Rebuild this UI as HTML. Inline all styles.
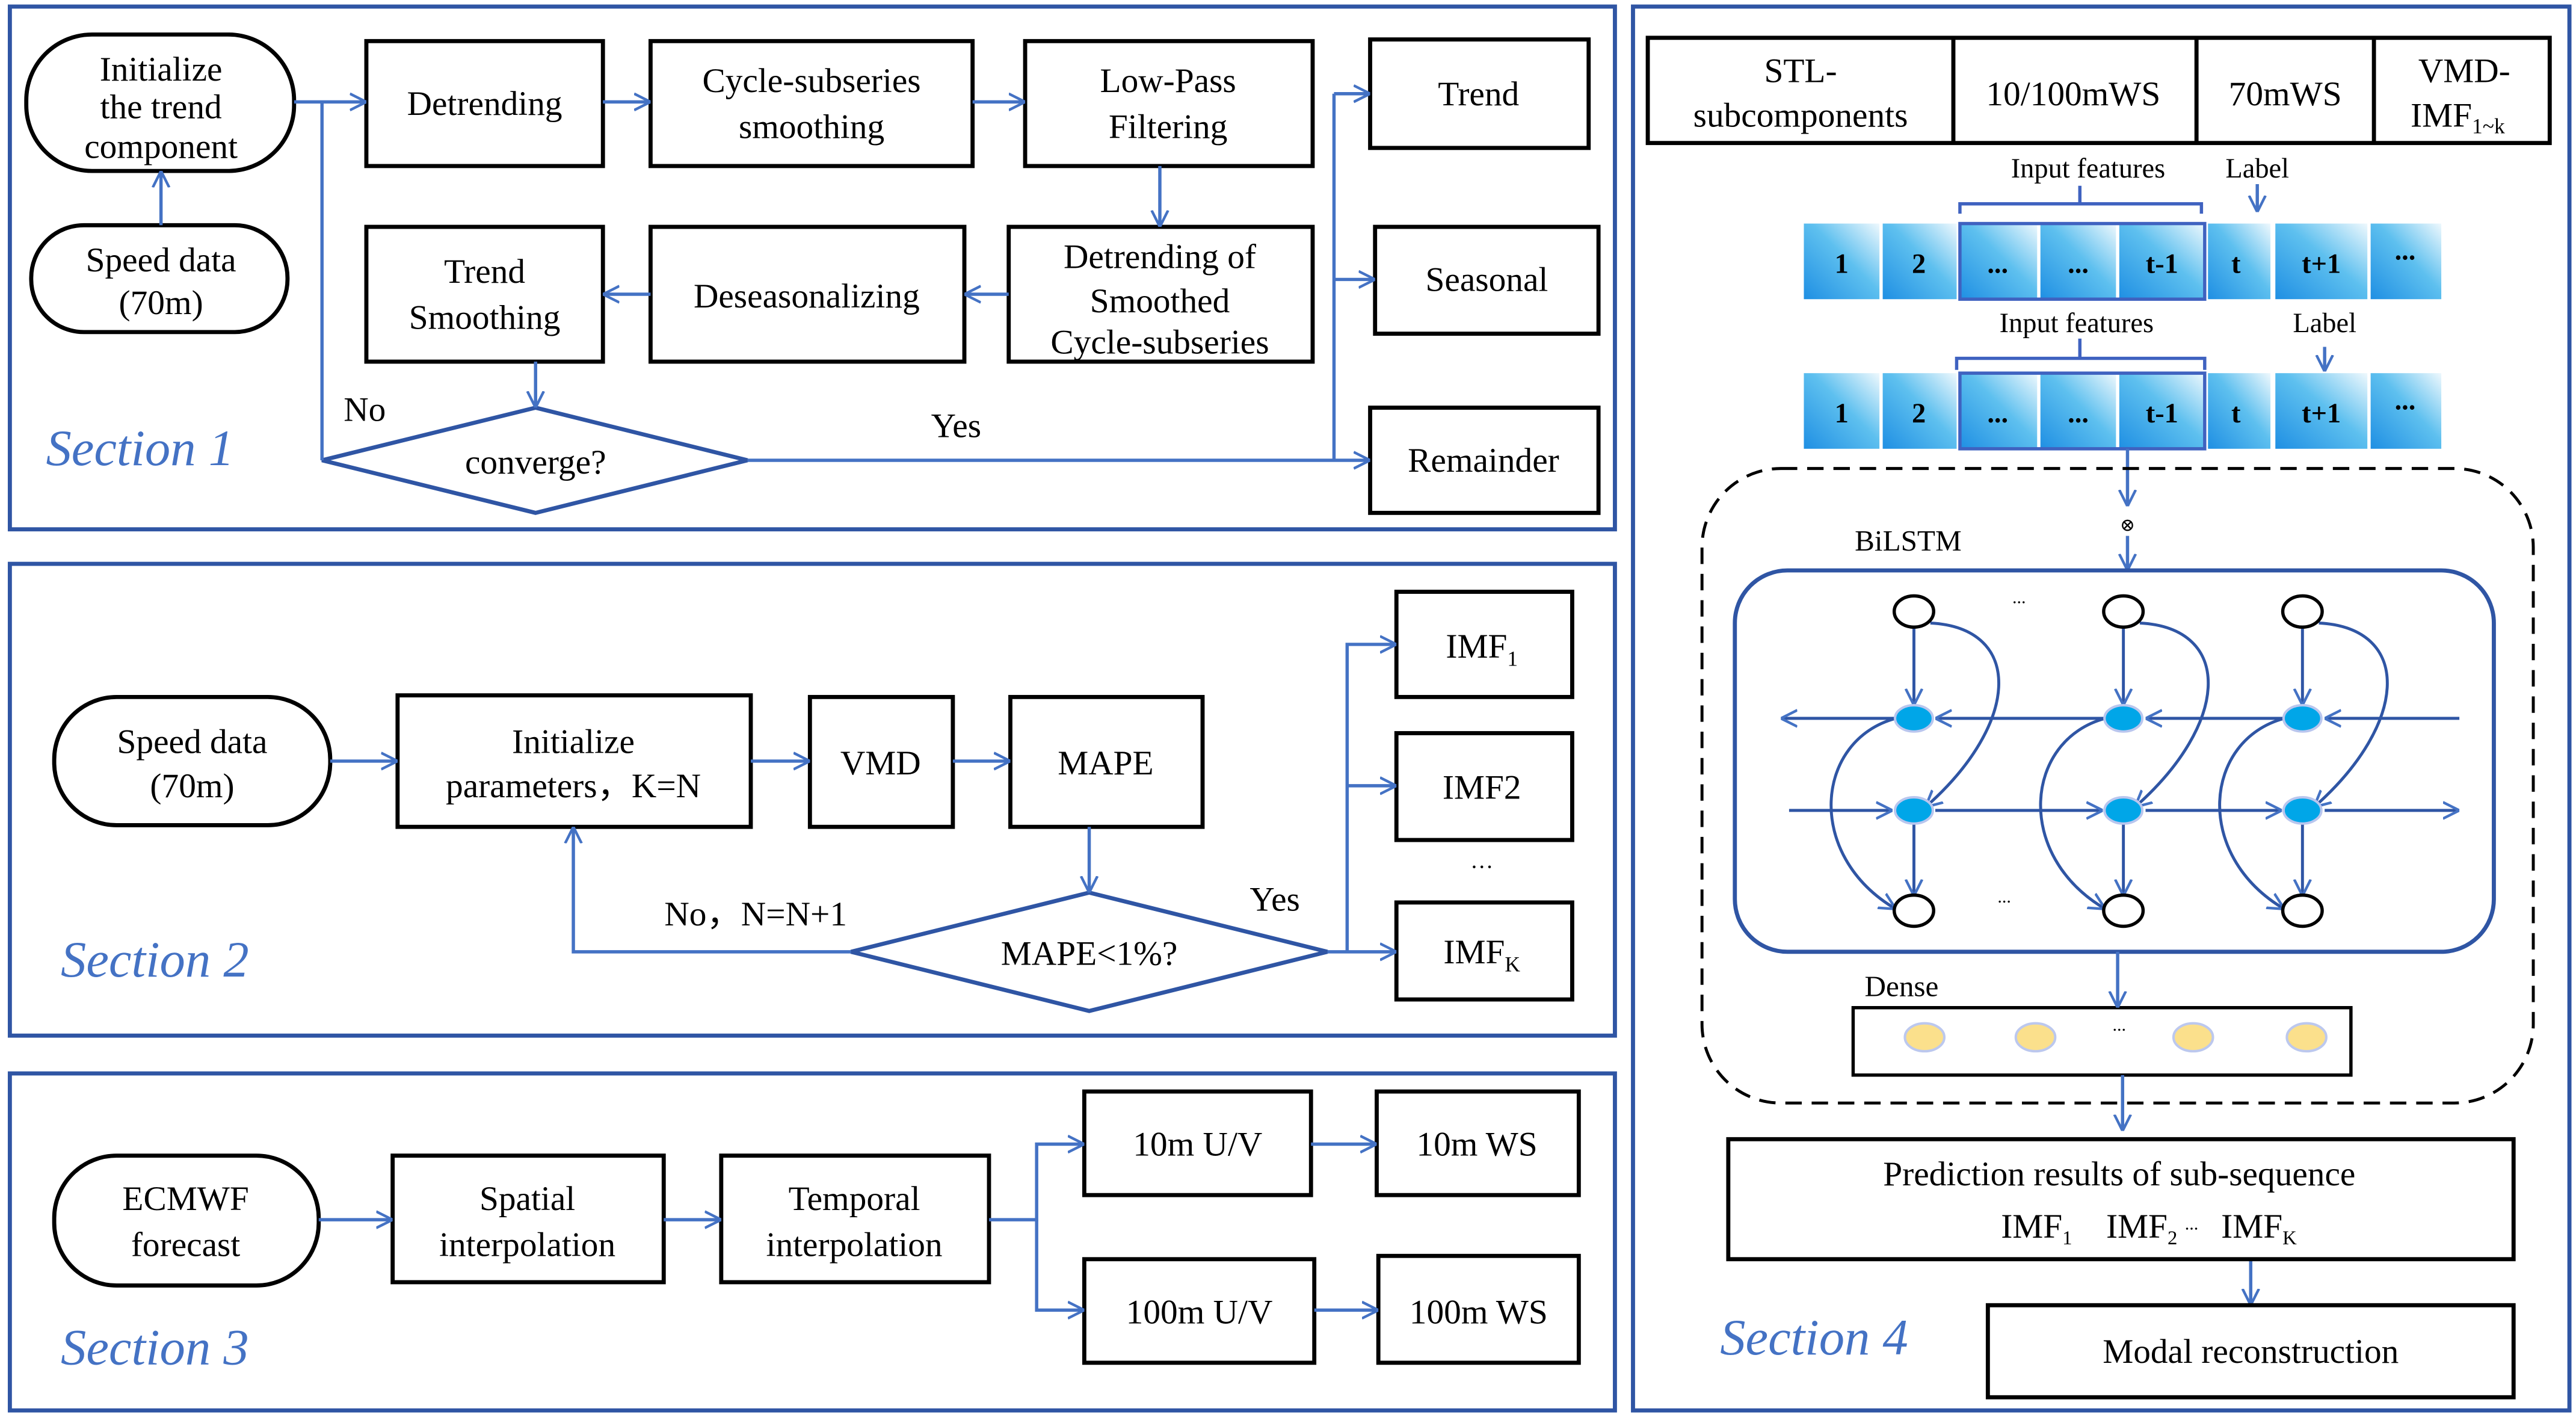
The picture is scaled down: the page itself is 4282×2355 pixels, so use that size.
<!DOCTYPE html>
<html><head><meta charset="utf-8"><style>
html,body{margin:0;padding:0;background:#fff;}
svg{display:block;}
svg text{font-family:"Liberation Serif","DejaVu Serif",serif;fill:#000;}
</style></head><body>
<svg width="4282" height="2355" viewBox="0 0 1568 862" preserveAspectRatio="none" xmlns="http://www.w3.org/2000/svg" font-family="Liberation Serif, DejaVu Serif, serif">
<defs>
<marker id="a" viewBox="0 0 10 10" refX="10" refY="5" markerWidth="10" markerHeight="14" markerUnits="userSpaceOnUse" orient="auto">
<path d="M0,0 L10,5 L0,10" fill="none" stroke="#4472c4" stroke-width="1.6"/>
</marker>
<linearGradient id="g" x1="0" y1="1" x2="1" y2="0">
<stop offset="0" stop-color="#1f8fe3"/><stop offset="0.55" stop-color="#5ec0ef"/><stop offset="1" stop-color="#eef8fd"/>
</linearGradient>
</defs>
<g fill="none" stroke="#2f55a4" stroke-width="2.5">
<rect x="6" y="4" width="977" height="318"/>
<rect x="6" y="343" width="977" height="287"/>
<rect x="6" y="653" width="977" height="205"/>
<rect x="994" y="4" width="570" height="854"/>
</g>
<g font-style="italic" font-size="31">
<text x="28" y="283" style="fill:#4472c4">Section 1</text>
<text x="37" y="594" style="fill:#4472c4">Section 2</text>
<text x="37" y="830" style="fill:#4472c4">Section 3</text>
<text x="1047" y="824" style="fill:#4472c4">Section 4</text>
</g>
<!-- Section 1 -->
<g fill="#fff" stroke="#000" stroke-width="2.5">
<rect x="16" y="21" width="163" height="83" rx="40"/>
<rect x="19" y="137" width="156" height="65" rx="32"/>
<rect x="223" y="25" width="144" height="76"/>
<rect x="396" y="25" width="196" height="76"/>
<rect x="624" y="25" width="175" height="76"/>
<rect x="834" y="24" width="133" height="66"/>
<rect x="223" y="138" width="144" height="82"/>
<rect x="396" y="138" width="191" height="82"/>
<rect x="614" y="138" width="185" height="82"/>
<rect x="837" y="138" width="136" height="65"/>
<rect x="834" y="248" width="139" height="64"/>
</g>
<polygon points="196,280 326,248 455,280 326,312" fill="none" stroke="#2f55a4" stroke-width="2.5"/>
<g fill="none" stroke="#4472c4" stroke-width="2" marker-end="url(#a)">
<line x1="98" y1="137" x2="98" y2="104"/>
<line x1="179" y1="62" x2="223" y2="62"/>
<line x1="367" y1="62" x2="396" y2="62"/>
<line x1="592" y1="62" x2="624" y2="62"/>
<line x1="706" y1="101" x2="706" y2="138"/>
<line x1="614" y1="179" x2="587" y2="179"/>
<line x1="396" y1="179" x2="367" y2="179"/>
<line x1="326" y1="220" x2="326" y2="248"/>
<line x1="812" y1="57" x2="834" y2="57"/>
<line x1="812" y1="170" x2="837" y2="170"/>
<line x1="455" y1="280" x2="834" y2="280"/>
</g>
<g fill="none" stroke="#4472c4" stroke-width="2">
<polyline points="196,280 196,62"/>
<line x1="812" y1="57" x2="812" y2="280"/>
</g>
<g font-size="21" text-anchor="middle">
<text x="98" y="49">Initialize</text><text x="98" y="72">the trend</text><text x="98" y="96">component</text>
<text x="98" y="165">Speed data</text><text x="98" y="191">(70m)</text>
<text x="295" y="70">Detrending</text>
<text x="494" y="56">Cycle-subseries</text><text x="494" y="84">smoothing</text>
<text x="711" y="56">Low-Pass</text><text x="711" y="84">Filtering</text>
<text x="900" y="64">Trend</text>
<text x="295" y="172">Trend</text><text x="295" y="200">Smoothing</text>
<text x="491" y="187">Deseasonalizing</text>
<text x="706" y="163">Detrending of</text><text x="706" y="190">Smoothed</text><text x="706" y="215">Cycle-subseries</text>
<text x="905" y="177">Seasonal</text>
<text x="903" y="287">Remainder</text>
<text x="326" y="288">converge?</text>
<text x="222" y="256">No</text>
<text x="582" y="266">Yes</text>
</g>
<!-- Section 2 -->
<g fill="#fff" stroke="#000" stroke-width="2.5">
<rect x="33" y="424" width="168" height="78" rx="38"/>
<rect x="242" y="423" width="215" height="80"/>
<rect x="493" y="424" width="87" height="79"/>
<rect x="615" y="424" width="117" height="79"/>
<rect x="850" y="360" width="107" height="64"/>
<rect x="850" y="446" width="107" height="65"/>
<rect x="850" y="549" width="107" height="59"/>
</g>
<polygon points="518,579 663,543 808,579 663,615" fill="none" stroke="#2f55a4" stroke-width="2.5"/>
<g fill="none" stroke="#4472c4" stroke-width="2" marker-end="url(#a)">
<line x1="201" y1="463" x2="242" y2="463"/>
<line x1="457" y1="463" x2="493" y2="463"/>
<line x1="580" y1="463" x2="615" y2="463"/>
<line x1="663" y1="503" x2="663" y2="543"/>
<polyline points="518,579 349,579 349,503"/>
<polyline points="820,579 820,392 850,392"/>
<line x1="820" y1="478" x2="850" y2="478"/>
<line x1="808" y1="579" x2="850" y2="579"/>
</g>
<g font-size="21" text-anchor="middle">
<text x="117" y="458">Speed data</text><text x="117" y="485">(70m)</text>
<text x="349" y="458">Initialize</text><text x="349" y="485">parameters，K=N</text>
<text x="536" y="471">VMD</text>
<text x="673" y="471">MAPE</text>
<text x="663" y="587">MAPE&lt;1%?</text>
<text x="460" y="563">No，N=N+1</text>
<text x="776" y="554">Yes</text>
<text x="902" y="400">IMF<tspan font-size="13" dy="5">1</tspan></text>
<text x="902" y="486">IMF2</text>
<text x="902" y="528" font-size="14">…</text>
<text x="902" y="586">IMF<tspan font-size="13" dy="5">K</tspan></text>
</g>
<!-- Section 3 -->
<g fill="#fff" stroke="#000" stroke-width="2.5">
<rect x="33" y="703" width="161" height="79" rx="38"/>
<rect x="239" y="703" width="165" height="77"/>
<rect x="439" y="703" width="163" height="77"/>
<rect x="660" y="664" width="138" height="63"/>
<rect x="838" y="664" width="123" height="63"/>
<rect x="660" y="766" width="140" height="63"/>
<rect x="839" y="764" width="122" height="65"/>
</g>
<g fill="none" stroke="#4472c4" stroke-width="2" marker-end="url(#a)">
<line x1="194" y1="742" x2="239" y2="742"/>
<line x1="404" y1="742" x2="439" y2="742"/>
<polyline points="602,742 631,742 631,696 660,696"/>
<polyline points="631,742 631,797 660,797"/>
<line x1="798" y1="696" x2="838" y2="696"/>
<line x1="800" y1="797" x2="839" y2="797"/>
</g>
<g font-size="21" text-anchor="middle">
<text x="113" y="736">ECMWF</text><text x="113" y="764">forecast</text>
<text x="321" y="736">Spatial</text><text x="321" y="764">interpolation</text>
<text x="520" y="736">Temporal</text><text x="520" y="764">interpolation</text>
<text x="729" y="703">10m U/V</text>
<text x="899" y="703">10m WS</text>
<text x="730" y="805">100m U/V</text>
<text x="900" y="805">100m WS</text>
</g>
<!-- Section 4 -->
<g fill="none" stroke="#000" stroke-width="2.5">
<rect x="1003" y="23" width="549" height="64"/>
<line x1="1189" y1="23" x2="1189" y2="87"/>
<line x1="1337" y1="23" x2="1337" y2="87"/>
<line x1="1445" y1="23" x2="1445" y2="87"/>
</g>
<g font-size="21" text-anchor="middle">
<text x="1096" y="50">STL-</text><text x="1096" y="77">subcomponents</text>
<text x="1262" y="64">10/100mWS</text>
<text x="1391" y="64">70mWS</text>
<text x="1500" y="50">VMD-</text><text x="1496" y="77">IMF<tspan font-size="13" dy="4">1~k</tspan></text>
</g>
<g fill="url(#g)">
<rect x="1098" y="136" width="46" height="46"/><rect x="1146" y="136" width="45" height="46"/>
<rect x="1193" y="136" width="47" height="46"/><rect x="1242" y="136" width="46" height="46"/>
<rect x="1290" y="136" width="52" height="46"/><rect x="1344" y="136" width="38" height="46"/>
<rect x="1385" y="136" width="56" height="46"/><rect x="1443" y="136" width="43" height="46"/>
<rect x="1098" y="227" width="46" height="46"/><rect x="1146" y="227" width="45" height="46"/>
<rect x="1193" y="227" width="47" height="46"/><rect x="1242" y="227" width="46" height="46"/>
<rect x="1290" y="227" width="52" height="46"/><rect x="1344" y="227" width="38" height="46"/>
<rect x="1385" y="227" width="56" height="46"/><rect x="1443" y="227" width="43" height="46"/>
</g>
<g fill="none" stroke="#3f62c0" stroke-width="2">
<rect x="1193" y="136" width="149" height="46"/>
<rect x="1193" y="227" width="149" height="46"/>
<path d="M1193,130 V124 H1340 V130 M1266,124 V113"/>
<path d="M1191,225 V218 H1342 V225 M1266,218 V206"/>
</g>
<g font-size="17" font-weight="bold" text-anchor="middle">
<text x="1121" y="166">1</text><text x="1168" y="166">2</text><text x="1216" y="166">...</text>
<text x="1265" y="166">...</text><text x="1316" y="166">t-1</text><text x="1361" y="166">t</text>
<text x="1413" y="166">t+1</text><text x="1464" y="158">...</text>
<text x="1121" y="257">1</text><text x="1168" y="257">2</text><text x="1216" y="257">...</text>
<text x="1265" y="257">...</text><text x="1316" y="257">t-1</text><text x="1361" y="257">t</text>
<text x="1413" y="257">t+1</text><text x="1464" y="249">...</text>
</g>
<g font-size="17" text-anchor="middle">
<text x="1271" y="108">Input features</text><text x="1374" y="108">Label</text>
<text x="1264" y="202">Input features</text><text x="1415" y="202">Label</text>
<text x="1295" y="323" font-size="11">⊗</text>
<text x="1129" y="335" font-size="18" text-anchor="start">BiLSTM</text>
<text x="1135" y="606" font-size="18" text-anchor="start">Dense</text>
</g>
<g fill="none" stroke="#4472c4" stroke-width="2" marker-end="url(#a)">
<line x1="1374" y1="112" x2="1374" y2="129"/>
<line x1="1415" y1="211" x2="1415" y2="226"/>
<line x1="1295" y1="273" x2="1295" y2="308"/>
<line x1="1295" y1="326" x2="1295" y2="347"/>
</g>
<rect x="1036" y="285" width="506" height="386" rx="48" fill="none" stroke="#000" stroke-width="1.8" stroke-dasharray="10,6"/>
<rect x="1056" y="347" width="462" height="232" rx="32" fill="none" stroke="#2f55a4" stroke-width="2.5"/>
<g fill="none" stroke="#2f55a4" stroke-width="1.8">
<g marker-end="url(#a)">
<line x1="1497" y1="437" x2="1415" y2="437"/>
<line x1="1390" y1="437" x2="1306" y2="437"/>
<line x1="1281" y1="437" x2="1178" y2="437"/>
<line x1="1153" y1="437" x2="1084" y2="437"/>
<line x1="1089" y1="493" x2="1152" y2="493"/>
<line x1="1178" y1="493" x2="1280" y2="493"/>
<line x1="1306" y1="493" x2="1389" y2="493"/>
<line x1="1415" y1="493" x2="1497" y2="493"/>
</g>
<g id="col" marker-end="url(#a)">
<line x1="1165" y1="381" x2="1165" y2="429"/>
<line x1="1165" y1="501" x2="1165" y2="545"/>
<path d="M1175,379 C1232,382 1230,440 1172,491"/>
<path d="M1154,437 C1105,450 1098,520 1154,553"/>
</g>
<use href="#col" transform="translate(127.5,0)"/>
<use href="#col" transform="translate(236.5,0)"/>
</g>
<g fill="#fff" stroke="#000" stroke-width="2">
<ellipse cx="1165" cy="372" rx="12" ry="9.5"/><ellipse cx="1292.5" cy="372" rx="12" ry="9.5"/><ellipse cx="1401.5" cy="372" rx="12" ry="9.5"/>
<ellipse cx="1165" cy="554" rx="12" ry="9.5"/><ellipse cx="1292.5" cy="554" rx="12" ry="9.5"/><ellipse cx="1401.5" cy="554" rx="12" ry="9.5"/>
</g>
<g fill="#00a6e8" stroke="#b9c6ee" stroke-width="1.5">
<ellipse cx="1165" cy="437" rx="11.5" ry="8"/><ellipse cx="1292.5" cy="437" rx="11.5" ry="8"/><ellipse cx="1401.5" cy="437" rx="11.5" ry="8"/>
<ellipse cx="1165" cy="493" rx="11.5" ry="8"/><ellipse cx="1292.5" cy="493" rx="11.5" ry="8"/><ellipse cx="1401.5" cy="493" rx="11.5" ry="8"/>
</g>
<g font-size="11" text-anchor="middle"><text x="1229" y="367">...</text><text x="1220" y="549">...</text><text x="1290" y="627">...</text></g>
<rect x="1128" y="613" width="303" height="41" fill="none" stroke="#000" stroke-width="2"/>
<g fill="#fbe08c" stroke="#bcc8ee" stroke-width="1.5">
<ellipse cx="1171.5" cy="631" rx="12" ry="8.5"/><ellipse cx="1239" cy="631" rx="12" ry="8.5"/>
<ellipse cx="1335" cy="631" rx="12" ry="8.5"/><ellipse cx="1404" cy="631" rx="12" ry="8.5"/>
</g>
<g fill="none" stroke="#4472c4" stroke-width="2" marker-end="url(#a)">
<line x1="1289" y1="579" x2="1289" y2="613"/>
<line x1="1292" y1="654" x2="1292" y2="688"/>
<line x1="1370" y1="766" x2="1370" y2="794"/>
</g>
<g fill="#fff" stroke="#000" stroke-width="2.5">
<rect x="1052" y="693" width="478" height="73"/>
<rect x="1210" y="794" width="320" height="56"/>
</g>
<g font-size="21" text-anchor="middle">
<text x="1290" y="721">Prediction results of sub-sequence</text>
<text x="1218" y="753" text-anchor="start">IMF<tspan font-size="12" dy="4">1</tspan></text>
<text x="1282" y="753" text-anchor="start">IMF<tspan font-size="12" dy="4">2</tspan></text>
<text x="1334" y="748" font-size="11">...</text>
<text x="1352" y="753" text-anchor="start">IMF<tspan font-size="12" dy="4">K</tspan></text>
<text x="1370" y="829">Modal reconstruction</text>
</g>
</svg>
</body></html>
